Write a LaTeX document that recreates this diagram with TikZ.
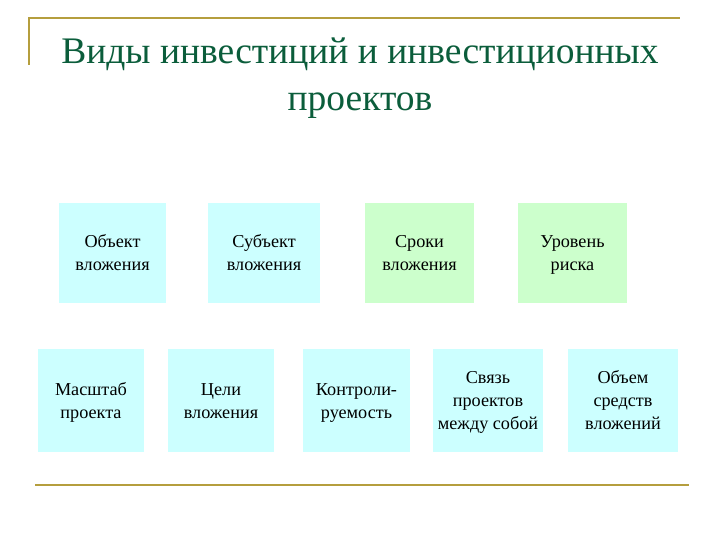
\documentclass[tikz,border=0pt]{standalone}
\usepackage{fontspec}
\setmainfont{Liberation Serif}
\definecolor{boxcyan}{HTML}{CCFFFF}
\definecolor{boxgreen}{HTML}{CCFFCC}
\definecolor{titlegreen}{HTML}{0B5D3B}
\definecolor{rulegold}{HTML}{B59E3E}
\tikzset{
  kind/.style={inner sep=0pt, align=center, font=\fontsize{18.2}{23}\selectfont,
    text depth=0pt, text height=35pt},
  threelines/.style={text height=58pt},
  toprow/.style={kind, minimum height=100pt},
  lowrow/.style={kind, minimum height=103pt, fill=boxcyan}
}

\begin{document}
\begin{tikzpicture}[x=1pt,y=-1pt]
\useasboundingbox (0,0) rectangle (720,540);
% rules
\draw[rulegold, line width=2.5pt] (29,65) -- (29,18) -- (680,18);
\draw[rulegold, line width=2.5pt] (35,485) -- (689,485);
% title
\node[titlegreen, align=center, font=\fontsize{37.5}{47}\selectfont] (title) at (360,78) {Виды инвестиций и инвестиционных\\проектов};
% first row
\node[toprow, fill=boxcyan, minimum width=107pt] (object) at (112.5,253) {Объект\\вложения};
\node[toprow, fill=boxcyan, minimum width=112pt] (subject) at (264,253) {Субъект\\вложения};
\node[toprow, fill=boxgreen, minimum width=109pt] (terms) at (419.5,253) {Сроки\\вложения};
\node[toprow, fill=boxgreen, minimum width=109pt] (risk) at (572.5,253) {Уровень\\риска};
% second row
\node[lowrow, minimum width=106pt] (scale) at (91,400.5) {Масштаб\\проекта};
\node[lowrow, minimum width=106pt] (goals) at (221,400.5) {Цели\\вложения};
\node[lowrow, minimum width=107pt] (control) at (356.5,400.5) {Контроли-\\руемость};
\node[lowrow, threelines, minimum width=110pt] (links) at (488,400.5) {Связь\\проектов\\между собой};
\node[lowrow, threelines, minimum width=110pt] (volume) at (623,400.5) {Объем\\средств\\вложений};
\end{tikzpicture}
\end{document}
